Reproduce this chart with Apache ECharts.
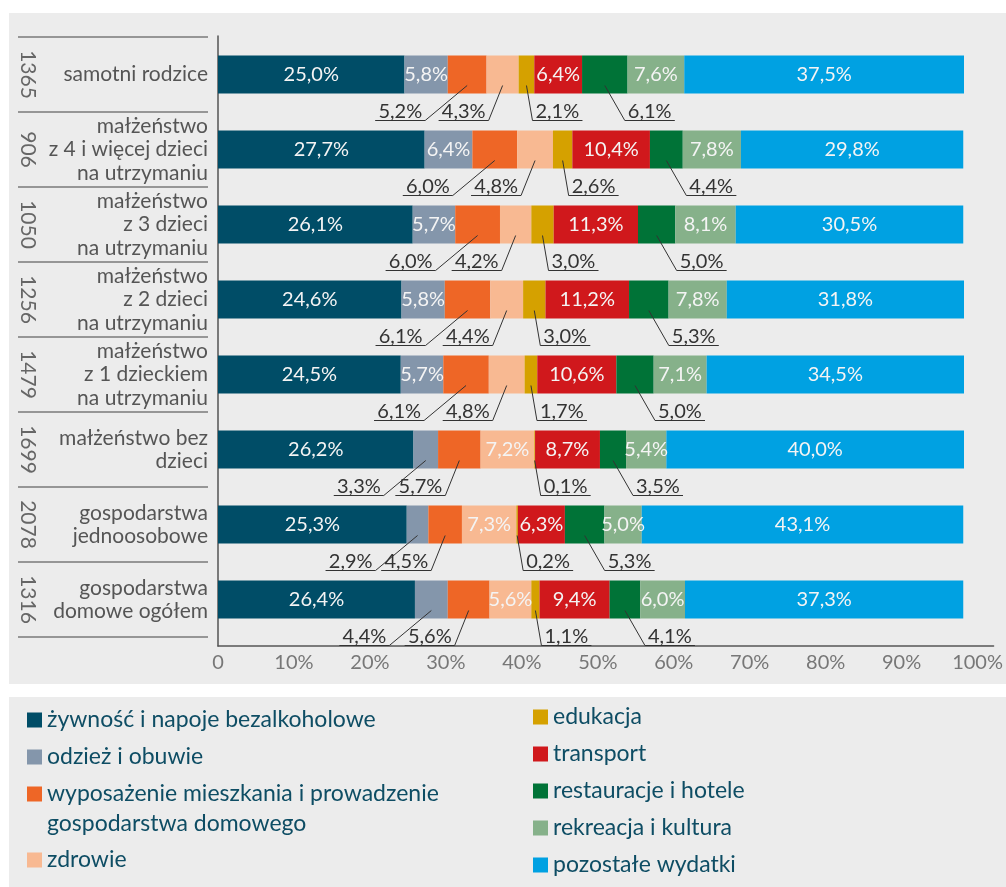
<!DOCTYPE html>
<html>
<head>
<meta charset="utf-8">
<script src="https://cdn.jsdelivr.net/npm/echarts@6/dist/echarts.min.js"></script>
<style>
  html, body { margin: 0; padding: 0; background: #fff; }
  #chart { width: 1006px; height: 887px; }
</style>
</head>
<body>
<div id="chart"></div>
<script>
const categories = [
  'samotni rodzice',
  'małżeństwo\nz 4 i więcej dzieci\nna utrzymaniu',
  'małżeństwo\nz 3 dzieci\nna utrzymaniu',
  'małżeństwo\nz 2 dzieci\nna utrzymaniu',
  'małżeństwo\nz 1 dzieckiem\nna utrzymaniu',
  'małżeństwo bez\ndzieci',
  'gospodarstwa\njednoosobowe',
  'gospodarstwa\ndomowe ogółem'
];
const sampleSizes = ['1365', '906', '1050', '1256', '1479', '1699', '2078', '1316'];

const seriesNames = [
  'żywność i napoje bezalkoholowe',
  'odzież i obuwie',
  'wyposażenie mieszkania i prowadzenie gospodarstwa domowego',
  'zdrowie',
  'edukacja',
  'transport',
  'restauracje i hotele',
  'rekreacja i kultura',
  'pozostałe wydatki'
];
const food = [25.0, 27.7, 26.1, 24.6, 24.5, 26.2, 25.3, 26.4];
const clothing = [5.8, 6.4, 5.7, 5.8, 5.7, 3.3, 2.9, 4.4];
const housing = [5.2, 6.0, 6.0, 6.1, 6.1, 5.7, 4.5, 5.6];
const health = [4.3, 4.8, 4.2, 4.4, 4.8, 7.2, 7.3, 5.6];
const education = [2.1, 2.6, 3.0, 3.0, 1.7, 0.1, 0.2, 1.1];
const transport = [6.4, 10.4, 11.3, 11.2, 10.6, 8.7, 6.3, 9.4];
const restaurants = [6.1, 4.4, 5.0, 5.3, 5.0, 3.5, 5.3, 4.1];
const recreation = [7.6, 7.8, 8.1, 7.8, 7.1, 5.4, 5.0, 6.0];
const other = [37.5, 29.8, 30.5, 31.8, 34.5, 40.0, 43.1, 37.3];
const xTicks = [0, 10, 20, 30, 40, 50, 60, 70, 80, 90, 100];

const values = [food, clothing, housing, health, education, transport, restaurants, recreation, other];
const colors = ['#004d67', '#8496ab', '#ee6626', '#f8b992', '#d5a100', '#d0181c', '#007337', '#86b18a', '#00a1e2'];

const FONT = 'Lato';
const fmt = v => v.toFixed(1).replace('.', ',') + '%';

// które odcinki mają etykietę pod słupkiem (z odnośnikiem)
const isCallout = (si, v) => {
  if (si === 2 || si === 4 || si === 6) return true;
  if (si === 1 || si === 3) return v < 5;
  return false;
};

// odnośniki: lewa strona dla odzieży/wyposażenia/zdrowia, prawa dla edukacji i restauracji
const calloutData = [];
categories.forEach((c, ci) => {
  let start = 0;
  let leftCount = 0;
  values.forEach((arr, si) => {
    const v = arr[ci];
    if (isCallout(si, v)) {
      let side, dx;
      if (si <= 3) {
        side = -1;
        dx = leftCount === 0 ? -42 : -14;
        leftCount++;
      } else {
        side = 1;
        dx = si === 4 ? 6 : 20;
      }
      calloutData.push([ci, start, v, dx, side]);
    }
    start += v;
  });
});

const barSeries = values.map((arr, si) => ({
  name: seriesNames[si],
  type: 'bar',
  stack: 'total',
  xAxisIndex: 0,
  yAxisIndex: 0,
  barWidth: 38,
  itemStyle: { color: colors[si] },
  label: {
    show: true,
    position: 'inside',
    color: '#f4f4f4',
    fontSize: 20,
    fontFamily: FONT,
    formatter: p => fmt(p.value)
  },
  data: arr.map(v => ({ value: v, label: { show: !isCallout(si, v) } }))
}));

const calloutSeries = {
  type: 'custom',
  xAxisIndex: 0,
  yAxisIndex: 0,
  encode: { x: 1, y: 0 },
  z: 5,
  silent: true,
  data: calloutData,
  renderItem: (params, api) => {
    const cat = api.value(0), start = api.value(1), val = api.value(2);
    const dx = api.value(3), side = api.value(4);
    const p = api.coord([start + val / 2, cat]);
    const x0 = p[0], y0 = p[1] + 11;
    const x1 = p[0] + dx, y1 = p[1] + 46;
    const x2 = x1 + side * 50;
    return {
      type: 'group',
      children: [
        {
          type: 'polyline',
          shape: { points: [[x0, y0], [x1, y1], [x2, y1]] },
          style: { stroke: '#333', lineWidth: 1, fill: 'none' }
        },
        {
          type: 'text',
          style: {
            text: fmt(val),
            x: x1 + side * 3,
            y: y1 + 1,
            align: side < 0 ? 'right' : 'left',
            verticalAlign: 'bottom',
            fill: '#333',
            fontSize: 20,
            fontFamily: FONT
          }
        }
      ]
    };
  }
};

const chart = echarts.init(document.getElementById('chart'));

const legendText = { color: '#0e4d64', fontSize: 23, fontFamily: FONT, lineHeight: 30 };
const legendBase = {
  orient: 'vertical', itemGap: 7, itemWidth: 15, itemHeight: 15,
  padding: 0, icon: 'rect', selectedMode: false, textStyle: legendText
};

const option = {
  backgroundColor: '#ffffff',
  animation: false,
  textStyle: { fontFamily: FONT },
  graphic: [
    { type: 'rect', z: -10, silent: true, shape: { x: 9, y: 13, width: 997, height: 671 }, style: { fill: '#ececec' } },
    { type: 'rect', z: -10, silent: true, shape: { x: 9, y: 697, width: 997, height: 190 }, style: { fill: '#ececec' } }
  ],
  grid: [
    { left: 218, top: 37, width: 746, height: 600 },
    { left: 218, top: 36, width: 776, height: 610 },
    { left: 18, top: 37, width: 190, height: 600 }
  ],
  xAxis: [
    { type: 'value', gridIndex: 0, min: 0, max: 100, show: false },
    {
      type: 'value', gridIndex: 1, min: 0, max: 100 * 776 / 760, interval: 10,
      axisLine: { show: true, lineStyle: { color: '#555', width: 1.5 } },
      axisTick: { show: false },
      splitLine: { show: false },
      axisLabel: {
        color: '#777', fontSize: 20, fontFamily: FONT, margin: 7,
        formatter: v => xTicks.includes(v) ? (v === 0 ? '0' : v + '%') : ''
      }
    },
    { type: 'value', gridIndex: 2, show: false }
  ],
  yAxis: [
    {
      type: 'category', gridIndex: 0, inverse: true, data: categories,
      axisLine: { show: false }, axisTick: { show: false },
      axisLabel: { color: '#555', fontSize: 21, fontFamily: FONT, margin: 10, lineHeight: 23.5, align: 'right' }
    },
    {
      type: 'category', gridIndex: 0, inverse: true, data: sampleSizes,
      position: 'left', offset: 180,
      axisLine: { show: false }, axisTick: { show: false },
      axisLabel: { color: '#666', fontSize: 21, fontFamily: FONT, rotate: -90, margin: 0 }
    },
    {
      type: 'value', gridIndex: 1, min: 0, max: 1,
      axisLine: { show: true, lineStyle: { color: '#555', width: 1.5 } },
      axisTick: { show: false }, axisLabel: { show: false }, splitLine: { show: false }
    },
    {
      type: 'category', gridIndex: 2, inverse: true, data: categories,
      axisLine: { show: false }, axisTick: { show: false }, axisLabel: { show: false },
      splitLine: { show: true, lineStyle: { color: '#7a7a7a', width: 1.5 } }
    }
  ],
  legend: [
    Object.assign({}, legendBase, { left: 27, top: 705, data: [seriesNames[0], seriesNames[1]] }),
    // pusta pierwsza linia: ikona wyrównana do pierwszego wiersza tekstu
    Object.assign({}, legendBase, {
      left: 27, top: 749,
      data: [seriesNames[2]],
      formatter: () => '\nwyposażenie mieszkania i prowadzenie\ngospodarstwa domowego'
    }),
    Object.assign({}, legendBase, { left: 27, top: 845, data: [seriesNames[3]] }),
    Object.assign({}, legendBase, { left: 533, top: 702, data: seriesNames.slice(4) })
  ],
  series: [...barSeries, calloutSeries]
};

chart.setOption(option);
</script>
</body>
</html>
